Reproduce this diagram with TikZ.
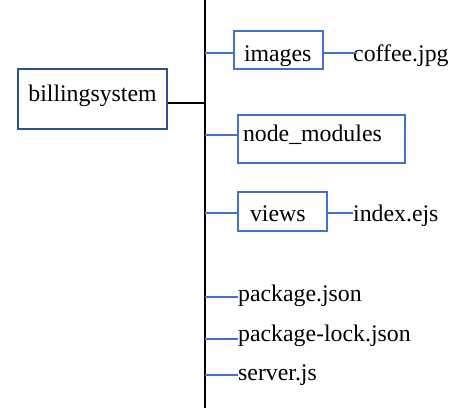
\documentclass[tikz,border=0pt]{standalone}
\usepackage{fontspec}
\setmainfont{Liberation Serif}
\definecolor{lblue}{RGB}{68,114,196}
\definecolor{dblue}{RGB}{47,82,143}
\begin{document}
\begin{tikzpicture}[x=1pt,y=-1pt,
  every node/.style={font=\fontsize{23.8}{28}\selectfont},
  folder/.style={draw=lblue,line width=2pt,inner ysep=0pt,align=left},
  leaf/.style={inner sep=0pt,anchor=base west},
  conn/.style={draw=lblue,line width=2pt},
  spine/.style={draw=black,line width=2pt}]
\useasboundingbox (0,0) rectangle (470,412);
% spine
\coordinate (top) at (205,0);
\coordinate (bot) at (205,408);
\draw[spine] (top) -- (bot);
% root
\node[draw=dblue,line width=2pt,minimum width=149pt,minimum height=60pt,inner sep=0pt,text height=16pt,text depth=10.6pt] (root) at (92.5,99) {billingsystem};
\coordinate (r) at (205,103);
\draw[spine] (root.east |- r) -- (r);
% images
\node[folder,minimum height=38pt,text width=69pt,inner xsep=10pt,text height=26pt,text depth=2.6pt] (images) at (278.5,50) {images};
\coordinate (s1) at (205,53);
\draw[conn] (s1) -- (images.west |- s1);
\node[leaf] (coffee) at (353,61.7) {coffee.jpg};
\draw[conn] (images.east |- s1) -- ([xshift=4pt]coffee.west |- s1);
% node_modules
\node[folder,minimum height=48pt,text width=157pt,inner xsep=5pt,text height=16pt,text depth=11pt] (nm) at (321.5,138.5) {node\_modules};
\coordinate (s2) at (205,135);
\draw[conn] (s2) -- (nm.west |- s2);
% views
\node[folder,minimum height=39pt,text width=65pt,inner xsep=12pt,text height=24pt,text depth=3.6pt] (views) at (282.5,211.5) {views};
\coordinate (s3) at (205,213);
\draw[conn] (s3) -- (views.west |- s3);
\node[leaf] (index) at (353,221.7) {index.ejs};
\draw[conn] (views.east |- s3) -- (index.west |- s3);
% files
\node[leaf] (pj) at (238,301.7) {package.json};
\coordinate (s4) at (205,297);
\draw[conn] (s4) -- (pj.west |- s4);
\node[leaf] (plj) at (238,341.7) {package-lock.json};
\coordinate (s5) at (205,339);
\draw[conn] (s5) -- (plj.west |- s5);
\node[leaf] (srv) at (238,380) {server.js};
\coordinate (s6) at (205,375);
\draw[conn] (s6) -- (srv.west |- s6);
\end{tikzpicture}
\end{document}
